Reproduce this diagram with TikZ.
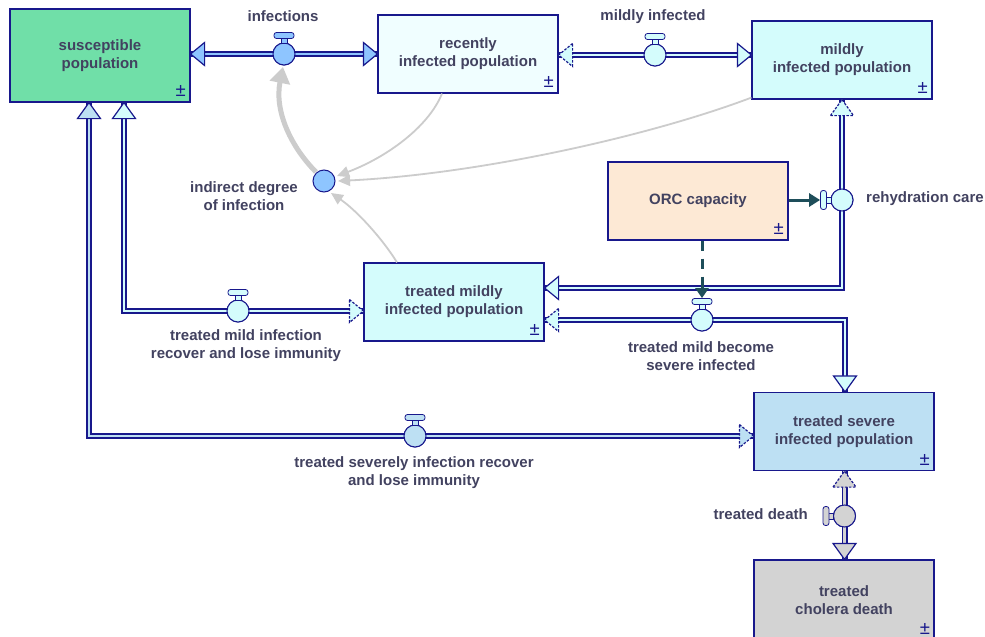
\documentclass[tikz,border=0pt]{standalone}
\usepackage{fontspec}
\setmainfont{Liberation Sans}
\usetikzlibrary{arrows.meta,calc}

\definecolor{navy}{RGB}{24,24,140}
\definecolor{txt}{RGB}{66,66,96}
\definecolor{susc}{RGB}{112,223,168}
\definecolor{recent}{RGB}{240,254,255}
\definecolor{mild}{RGB}{212,252,252}
\definecolor{orcc}{RGB}{253,233,213}
\definecolor{severe}{RGB}{189,224,243}
\definecolor{death}{RGB}{211,211,211}
\definecolor{auxb}{RGB}{142,197,255}
\definecolor{infl}{RGB}{204,204,204}
\definecolor{ctrl}{RGB}{30,78,90}

% arrow heads at the ends of flow pipes (#1 tip point, #2 fill, #3 outline style)
\newcommand\flowtipR[3]{\draw[tipline,fill=#2,#3] ($(#1)+(-14,-11.5)$) -- (#1) -- ($(#1)+(-14,11.5)$) -- cycle;}
\newcommand\flowtipL[3]{\draw[tipline,fill=#2,#3] ($(#1)+(14,-11.5)$) -- (#1) -- ($(#1)+(14,11.5)$) -- cycle;}
\newcommand\flowtipU[3]{\draw[tipline,fill=#2,#3] ($(#1)+(-11.5,16)$) -- (#1) -- ($(#1)+(11.5,16)$) -- cycle;}
\newcommand\flowtipD[3]{\draw[tipline,fill=#2,#3] ($(#1)+(-11.5,-16)$) -- (#1) -- ($(#1)+(11.5,-16)$) -- cycle;}

% valve handles: stem plus bar (#1 valve node, #2 fill, #3 bar name)
\newcommand\handletop[3]{%
  \draw[navy,line width=0.8pt,fill=#2] ($(#1.center)+(-3,-16)$) rectangle ($(#1.center)+(3,-11)$);
  \node[handlebar,fill=#2,minimum width=20pt,minimum height=6pt] (#3) at ($(#1.center)+(0,-18.5)$) {};}
\newcommand\handleleft[3]{%
  \draw[navy,line width=0.8pt,fill=#2] ($(#1.center)+(-16,-3)$) rectangle ($(#1.center)+(-11,3)$);
  \node[handlebar,fill=#2,minimum width=6pt,minimum height=19pt] (#3) at ($(#1.center)+(-18.5,0)$) {};}

\begin{document}
\begin{tikzpicture}[x=1pt,y=-1pt,
  every node/.style={font=\fontsize{15}{18}\selectfont\bfseries,text=txt},
  stock/.style={draw=navy,line width=1.2pt,minimum width=180pt,minimum height=78pt,
    align=center,inner sep=0pt},
  pm/.style={font=\fontsize{18.5}{18}\selectfont,text=navy,inner sep=0pt},
  lbl/.style={align=center,inner sep=0pt},
  valve/.style={circle,draw=navy,line width=1pt,minimum size=22pt,inner sep=0pt},
  handlebar/.style={draw=navy,line width=0.8pt,rounded corners=2.5pt,inner sep=0pt},
  pipe/.style={draw=navy,line width=1.6pt,double=#1,double distance=2.8pt,line join=miter},
  tipline/.style={draw=navy,line width=1.2pt,line join=miter},
  dashtip/.style={dash pattern=on 2.5pt off 1.5pt},
  soltip/.style={solid},
  infl/.style={draw=infl,line width=1.8pt,-{Triangle[width=11pt,length=12pt]}},
  ctrlarrow/.style={draw=ctrl,line width=3pt},
]
\useasboundingbox (0,0) rectangle (985,637);
\clip (0,0) rectangle (985,637);
\fill[white] (0,0) rectangle (985,637);

% stocks
\node[stock,fill=susc,minimum height=93pt] (sus) at (100,55.5) {susceptible\\population};
\node[stock,fill=recent] (rec) at (468,54) {recently\\infected population};
\node[stock,fill=mild] (mil) at (842,60) {mildly\\infected population};
\node[stock,fill=orcc] (orc) at (698,201) {ORC capacity};
\node[stock,fill=mild] (tm) at (454,302) {treated mildly\\infected population};
\node[stock,fill=severe] (sev) at (844,431.5) {treated severe\\infected population};
\node[stock,fill=death,minimum height=80pt] (cho) at (844,600) {treated\\cholera death};

\foreach \s in {sus,rec,mil,orc,tm,sev}
  \node[pm] at ($(\s.south east)+(-10,-11.5)$) {±};
\node[pm] at (925,628.5) {±};

% valves and pipe corners
\node[valve,fill=auxb] (vInf) at (284,54) {};
\node[valve,fill=mild] (vMild) at (655,55) {};
\node[valve,fill=mild] (vRe) at (842,200) {};
\node[valve,fill=mild] (vTMS) at (702,320) {};
\node[valve,fill=mild] (vTMR) at (238,311) {};
\node[valve,fill=severe] (vTSR) at (415,436) {};
\node[valve,fill=death] (vTD) at (844.5,516) {};
\node[valve,fill=auxb] (aux) at (324,181) {};

\coordinate (cRe) at (842,288);
\coordinate (cTMS) at (845,320);
\coordinate (cTMR) at (124,311);
\coordinate (cTSR) at (89,436);

% pipe end points
\coordinate (pInfA) at (sus.east |- vInf);
\coordinate (pInfB) at (rec.west |- vInf);
\coordinate (pMilA) at (rec.east |- vMild);
\coordinate (pMilB) at (mil.west |- vMild);
\coordinate (pReA) at (mil.south -| vRe);
\coordinate (pReB) at (tm.east |- cRe);
\coordinate (pTMSA) at (tm.east |- vTMS);
\coordinate (pTMSB) at (sev.north -| cTMS);
\coordinate (pTMRA) at (tm.west |- vTMR);
\coordinate (pTMRB) at (sus.south -| cTMR);
\coordinate (pTSRA) at (sev.west |- vTSR);
\coordinate (pTSRB) at (sus.south -| cTSR);
\coordinate (pTDA) at (sev.south -| vTD);
\coordinate (pTDB) at (cho.north -| vTD);

% flow pipes
\draw[pipe=auxb] (pInfA) -- (pInfB);
\draw[pipe=mild] (pMilA) -- (pMilB);
\draw[pipe=mild] (pReA) -- (cRe) -- (pReB);
\draw[pipe=mild] (pTMSA) -- (cTMS) -- (pTMSB);
\draw[pipe=mild] (pTMRA) -- (cTMR) -- (pTMRB);
\draw[pipe=severe] (pTSRA) -- (cTSR) -- (pTSRB);
\draw[pipe=death] (pTDA) -- (pTDB);

% pipe arrow heads
\flowtipL{pInfA}{auxb}{soltip}
\flowtipR{pInfB}{auxb}{soltip}
\flowtipL{pMilA}{mild}{dashtip}
\flowtipR{pMilB}{mild}{soltip}
\flowtipU{pReA}{mild}{dashtip}
\flowtipL{pReB}{mild}{soltip}
\flowtipL{pTMSA}{mild}{dashtip}
\flowtipD{pTMSB}{mild}{soltip}
\flowtipR{pTMRA}{mild}{dashtip}
\flowtipU{pTMRB}{mild}{soltip}
\flowtipR{pTSRA}{severe}{dashtip}
\flowtipU{pTSRB}{severe}{soltip}
\flowtipU{pTDA}{death}{dashtip}
\flowtipD{pTDB}{death}{soltip}

% redraw valves above the pipes
\foreach \v/\c in {vInf/auxb,vMild/mild,vRe/mild,vTMS/mild,vTMR/mild,vTSR/severe,vTD/death}
  \draw[navy,line width=1pt,fill=\c] (\v) circle (11);

\handletop{vInf}{auxb}{hInf}
\handletop{vMild}{mild}{hMild}
\handleleft{vRe}{mild}{hRe}
\handletop{vTMS}{mild}{hTMS}
\handletop{vTMR}{mild}{hTMR}
\handletop{vTSR}{severe}{hTSR}
\handleleft{vTD}{death}{hTD}

% information links
\draw[infl,line width=5pt,-{Triangle[width=20pt,length=16pt]}]
  ($(aux.center)+(-8,-9)$) .. controls (292,148) and (274,112) .. ($(vInf.center)+(-1,13)$);
\draw[infl] (rec.south -| 442,0) .. controls (428,128) and (385,158) .. ($(aux.center)+(13,-5)$);
\draw[infl] ($(mil.south west)+(0,-2)$) .. controls (650,136) and (480,174) .. ($(aux.center)+(14,0)$);
\draw[infl] (tm.north -| 397,0) .. controls (382,238) and (356,210) .. ($(aux.center)+(7,12)$);

% ORC capacity controls
\draw[ctrlarrow,-{Triangle[width=13pt,length=11pt]}] (orc.east |- hRe) -- (hRe.west);
\draw[ctrlarrow,dash pattern=on 10pt off 8pt] (orc.south -| hTMS) -- ($(hTMS.north)+(0,-10)$);
\draw[ctrlarrow,-{Triangle[width=13pt,length=10pt]}] ($(hTMS.north)+(0,-11)$) -- (hTMS.north);

% labels
\node[lbl] (lInf) at (283,16) {infections};
\node[lbl] (lMild) at (653,17) {mildly infected};
\node[lbl] (lAux) at (244,196.5) {indirect degree\\of infection};
\node[lbl,anchor=west] (lRe) at (866,199) {rehydration care};
\node[lbl] (lTMR) at (246,346) {treated mild infection\\recover and lose immunity};
\node[lbl] (lTMS) at (701,356) {treated mild become\\severe infected};
\node[lbl] (lTSR) at (414,472.5) {treated severely infection recover\\and lose immunity};
\node[lbl,anchor=east] (lTD) at (808,514) {treated death};
\end{tikzpicture}
\end{document}
